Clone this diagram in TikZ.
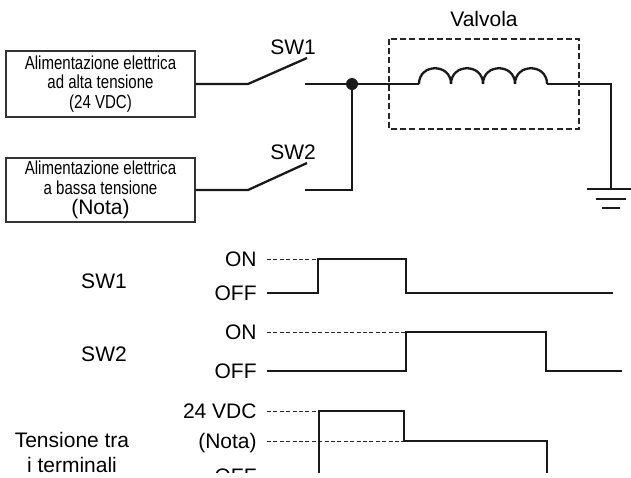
\documentclass[tikz,border=0pt]{standalone}
\usepackage{fontspec}
\setmainfont{Liberation Sans}
\newfontfamily\condfont[FakeStretch=0.8]{Liberation Sans}
\usetikzlibrary{positioning, calc}

\tikzset{
    wire/.style={line width=1.15pt, black!90},
    supply/.style={draw=black!80, line width=0.7pt, minimum width=94.5pt, minimum height=33pt,
        align=center, inner sep=0pt, font=\condfont\fontsize{9.4}{9.9}\selectfont},
    lbl/.style={inner sep=0pt, font=\fontsize{10.5}{12.5}\selectfont},
    lvl/.style={anchor=east, inner xsep=5pt, inner ysep=0pt, text height=7.5pt, text depth=0pt,
        font=\fontsize{10.5}{12.5}\selectfont},
    guide/.style={line width=0.5pt, black!85, dash pattern=on 2pt off 1.2pt},
    valvebox/.style={line width=0.6pt, black!85, dash pattern=on 3pt off 1.6pt},
}

\begin{document}
\begin{tikzpicture}[x=0.5pt, y=-0.5pt]

    \useasboundingbox (0,0) rectangle (631,477);
    \clip (0,0) rectangle (631,472);

    % power supplies
    \node[supply] (hv) at (100.5,84) {Alimentazione elettrica\\ad alta tensione\\(24 VDC)};
    \node[supply, minimum height=32pt] (lv) at (100.5,190)
        {Alimentazione elettrica\\a bassa tensione\\{\rmfamily\fontsize{10.5}{9.9}\selectfont(Nota)}};

    % switch and valve points
    \coordinate (s1a) at (248,84);
    \coordinate (s1t) at (307,58);
    \coordinate (s1b) at (305,84);
    \coordinate (s2a) at (248,190);
    \coordinate (s2t) at (307,163);
    \coordinate (s2b) at (305,190);
    \coordinate (j) at (352,84);
    \coordinate (c1) at (419,84);
    \coordinate (c2) at (547,84);
    \coordinate (gnd) at (611,189);

    % SW1 branch
    \draw[wire] (hv.east) -- (s1a) -- (s1t);
    \draw[wire] (s1b) -- (j) -- (c1);
    \node[lbl] (sw1) at (293,47) {SW1};

    % SW2 branch
    \draw[wire] (lv.east) -- (s2a) -- (s2t);
    \draw[wire] (s2b) -| (j);
    \node[lbl] (sw2) at (293,152) {SW2};

    \fill[black!90] (j) circle[radius=6];

    % coil
    \foreach \k in {0,...,3}
        \draw[wire] (419+32*\k,84) .. controls +(0,-21) and +(0,-21) .. (451+32*\k,84);
    \draw[wire] (c2) -| (gnd);

    % ground
    \draw[wire] (587,189) -- (631,189);
    \draw[wire] (596,199) -- (626,199);
    \draw[wire] (602,208) -- (620,208);

    % valve
    \draw[valvebox] (389,39) rectangle (579,129);
    \node[lbl] (valve) at (484,19) {Valvola};

    % timing labels
    \node[lbl] (t1) at (104,281) {SW1};
    \node[lbl] (t2) at (104,354) {SW2};
    \node[lbl, align=center] (t3) at (72,452) {Tensione tra\\i terminali};

    \node[lvl] (on1) at (267,259) {ON};
    \node[lvl] (off1) at (267,293) {OFF};
    \node[lvl] (on2) at (267,332) {ON};
    \node[lvl] (off2) at (267,371) {OFF};
    \node[lvl] (hi3) at (267,411) {24 VDC};
    \node[lvl] (mid3) at (267,441) {(Nota)};
    \node[lvl] (off3) at (267,476) {OFF};

    % SW1 timing
    \draw[guide] (on1.east) -- (318,259);
    \draw[wire] (off1.east) -| (318,259) -| (406,293) -- (613,293);

    % SW2 timing
    \draw[guide] (on2.east) -- (406,332);
    \draw[wire] (off2.east) -| (406,332) -| (546,371) -- (622,371);

    % terminal voltage
    \draw[guide] (hi3.east) -- (319,411);
    \draw[guide] (mid3.east) -- (404,441);
    \draw[wire] (off3.east) -| (319,411) -| (404,441) -| (547,476) -- (620,476);

\end{tikzpicture}
\end{document}
